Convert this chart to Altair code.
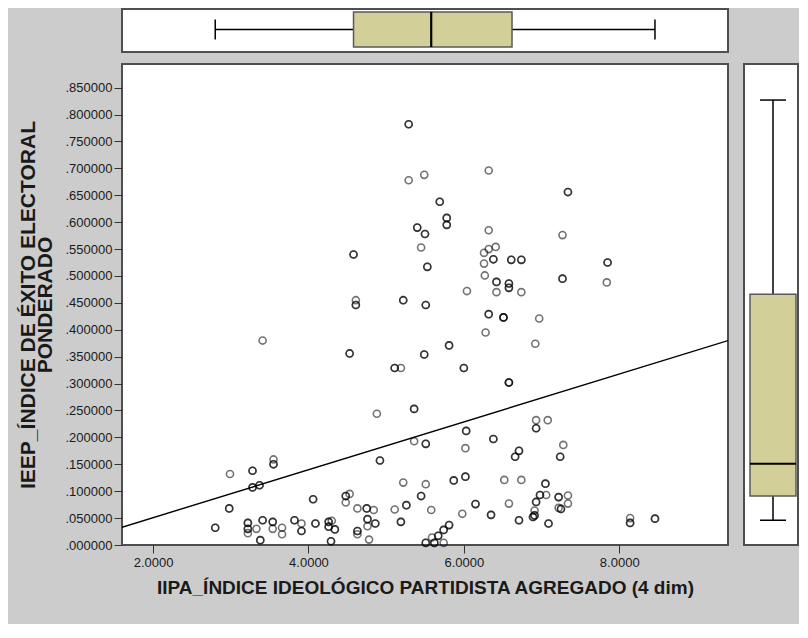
import altair as alt
import pandas as pd

# ---------------- data ----------------
# IIPA (x) and IEEP (y) for each plotted case; `cases` = how many cases overlap at that point
iipa = [5.29, 5.29, 5.49, 6.32, 7.34, 5.69, 5.78, 5.78, 5.40, 5.50,
        5.45, 4.58, 6.32, 7.27, 6.41, 6.32, 6.26, 6.38, 6.26, 6.61,
        6.74, 7.85, 5.53, 6.27, 7.27, 6.42, 6.58, 6.58, 7.84, 6.04,
        6.42, 6.74, 4.61, 4.61, 5.22, 5.51, 6.32, 6.51, 6.97, 6.28,
        6.92, 5.81, 6.00, 6.58, 6.03, 6.02, 6.38, 6.93, 7.08, 6.93,
        7.28, 7.24, 6.71, 6.66, 5.87, 6.02, 6.52, 6.74, 7.05, 5.58,
        5.98, 6.15, 6.35, 6.58, 6.71, 6.98, 7.06, 6.93, 6.91, 6.91,
        6.89, 7.09, 7.22, 7.34, 7.34, 7.22, 7.25, 8.14, 8.14, 8.46,
        5.81, 5.74, 5.67, 5.59, 5.51, 5.74, 5.62, 3.41, 4.53, 5.49,
        5.11, 5.19, 5.36, 4.88, 5.36, 5.51, 4.92, 2.99, 3.28, 3.55,
        3.55, 3.28, 3.37, 5.22, 5.51, 5.45, 5.26, 5.11, 5.19, 4.06,
        4.48, 4.53, 4.48, 4.63, 4.75, 4.84, 4.76, 4.76, 4.86, 4.78,
        4.63, 4.63, 2.80, 2.98, 3.22, 3.22, 3.22, 3.33, 3.41, 3.54,
        3.54, 3.66, 3.66, 3.38, 3.82, 3.91, 3.91, 4.09, 4.26, 4.30,
        4.26, 4.34, 4.29]
ieep = [0.782, 0.678, 0.688, 0.696, 0.656, 0.638, 0.608, 0.595, 0.590, 0.578,
        0.553, 0.540, 0.585, 0.576, 0.554, 0.550, 0.543, 0.531, 0.523, 0.530,
        0.530, 0.525, 0.517, 0.501, 0.495, 0.489, 0.486, 0.478, 0.488, 0.472,
        0.470, 0.470, 0.455, 0.446, 0.455, 0.446, 0.429, 0.423, 0.421, 0.395,
        0.374, 0.371, 0.329, 0.302, 0.212, 0.180, 0.197, 0.232, 0.232, 0.217,
        0.186, 0.164, 0.175, 0.164, 0.120, 0.127, 0.121, 0.121, 0.114, 0.065,
        0.058, 0.076, 0.056, 0.077, 0.046, 0.093, 0.093, 0.080, 0.064, 0.055,
        0.052, 0.040, 0.089, 0.092, 0.077, 0.069, 0.067, 0.050, 0.041, 0.049,
        0.037, 0.028, 0.017, 0.014, 0.004, 0.004, 0.004, 0.380, 0.356, 0.354,
        0.329, 0.329, 0.253, 0.244, 0.193, 0.188, 0.157, 0.132, 0.138, 0.159,
        0.150, 0.107, 0.111, 0.116, 0.113, 0.091, 0.074, 0.066, 0.043, 0.085,
        0.091, 0.095, 0.079, 0.068, 0.068, 0.065, 0.048, 0.035, 0.040, 0.010,
        0.026, 0.020, 0.032, 0.068, 0.041, 0.030, 0.022, 0.030, 0.046, 0.043,
        0.030, 0.032, 0.020, 0.009, 0.046, 0.040, 0.026, 0.040, 0.043, 0.045,
        0.034, 0.029, 0.007]
cases = [2, 1, 1, 1, 2, 2, 2, 2, 2, 2,
         1, 2, 1, 1, 1, 1, 1, 2, 1, 2,
         2, 2, 2, 1, 2, 2, 2, 2, 1, 1,
         1, 1, 1, 2, 2, 2, 2, 3, 1, 1,
         1, 2, 2, 3, 2, 1, 2, 1, 1, 2,
         1, 2, 2, 2, 2, 2, 1, 1, 2, 1,
         1, 2, 2, 1, 2, 2, 1, 2, 1, 2,
         2, 2, 2, 1, 1, 1, 2, 1, 2, 2,
         2, 2, 2, 1, 2, 1, 2, 1, 2, 2,
         2, 1, 2, 1, 1, 2, 2, 1, 2, 1,
         2, 2, 2, 1, 1, 2, 2, 1, 2, 2,
         2, 1, 1, 1, 2, 1, 2, 1, 2, 1,
         2, 1, 2, 2, 2, 2, 1, 1, 2, 2,
         1, 1, 1, 2, 2, 1, 2, 2, 2, 1,
         2, 2, 2]

# box-plot statistics: whisker low, Q1, median, Q3, whisker high
iipa_box = [2.80, 4.58, 5.58, 6.62, 8.46]
ieep_box = [0.046, 0.091, 0.151, 0.466, 0.827]

# linear fit line (value at the two ends of the x range)
fit_x = [1.6, 9.4]
fit_y = [0.033, 0.380]

x_ticks = [2, 4, 6, 8]
y_ticks = [0.0, 0.05, 0.10, 0.15, 0.20, 0.25, 0.30, 0.35, 0.40, 0.45,
           0.50, 0.55, 0.60, 0.65, 0.70, 0.75, 0.80, 0.85]

x_title = "IIPA_ÍNDICE IDEOLÓGICO PARTIDISTA AGREGADO (4 dim)"
y_title = ["IEEP_ÍNDICE DE ÉXITO ELECTORAL", "PONDERADO"]

# ---------------- tables ----------------
rows = []
for xv, yv, n in zip(iipa, ieep, cases):
    for _ in range(n):
        rows.append({"x": xv, "y": yv})
pts = pd.DataFrame(rows)
fit = pd.DataFrame({"x": fit_x, "y": fit_y})
keys = ["lo", "q1", "med", "q3", "hi"]
xbox = pd.DataFrame([dict(zip(keys, iipa_box))])
ybox = pd.DataFrame([dict(zip(keys, ieep_box))])

FONT = "Liberation Sans"
W, H = 606, 481
TOP_H = 43
RIGHT_W = 54
BOX_FILL = "#d3cf99"
BOX_STROKE = "#5a5a5a"

xs = alt.Scale(domain=[1.6, 9.4], nice=False, zero=False)
ys = alt.Scale(domain=[0, 0.894], nice=False, zero=False)

# ---------------- main scatter ----------------
x_axis = alt.Axis(values=x_ticks, format=".4f", title=x_title, grid=False, domain=False,
                  tickSize=8, tickColor="#333333", labelPadding=3, labelFont=FONT,
                  labelFontSize=13, labelColor="#1a1a1a", titleFont=FONT, titleFontSize=19,
                  titleFontWeight="bold", titleColor="#1a1a1a", titlePadding=9)
y_axis = alt.Axis(values=y_ticks, labelExpr="substring(format(datum.value, '.6f'), 1)",
                  labelOverlap=False, title=y_title, grid=False, domain=False, tickSize=8,
                  tickColor="#333333", labelPadding=2, labelFont=FONT, labelFontSize=13,
                  labelColor="#1a1a1a", titleFont=FONT, titleFontSize=21,
                  titleFontWeight="bold", titleColor="#1a1a1a", titlePadding=10,
                  titleLineHeight=17)

points = alt.Chart(pts).mark_point(shape="circle", filled=False, size=50, strokeWidth=1.6,
                                   color="black", opacity=0.55).encode(
    x=alt.X("x:Q", scale=xs, axis=x_axis),
    y=alt.Y("y:Q", scale=ys, axis=y_axis),
)
line = alt.Chart(fit).mark_line(color="black", strokeWidth=1.4, clip=True).encode(
    x=alt.X("x:Q", scale=xs, axis=x_axis),
    y=alt.Y("y:Q", scale=ys, axis=y_axis),
)
main = alt.layer(line, points).properties(width=W, height=H)

# ---------------- top box plot (IIPA) ----------------
tb = alt.Chart(xbox)
xq = lambda f: alt.X(f + ":Q", scale=xs, axis=None)
mid_t = TOP_H / 2 - 1
top = alt.layer(
    tb.mark_rule(color="black", strokeWidth=1.5).encode(x=xq("lo"), x2="q1", y=alt.value(mid_t)),
    tb.mark_rule(color="black", strokeWidth=1.5).encode(x=xq("q3"), x2="hi", y=alt.value(mid_t)),
    tb.mark_rule(color="black", strokeWidth=1.5).encode(x=xq("lo"), y=alt.value(mid_t - 10), y2=alt.value(mid_t + 10)),
    tb.mark_rule(color="black", strokeWidth=1.5).encode(x=xq("hi"), y=alt.value(mid_t - 10), y2=alt.value(mid_t + 10)),
    tb.mark_rect(fill=BOX_FILL, stroke=BOX_STROKE, strokeWidth=1.5).encode(
        x=xq("q1"), x2="q3", y=alt.value(3), y2=alt.value(TOP_H - 5)),
    tb.mark_rule(color="black", strokeWidth=2.2).encode(x=xq("med"), y=alt.value(3), y2=alt.value(TOP_H - 5)),
).properties(width=W, height=TOP_H)

# ---------------- right box plot (IEEP) ----------------
rb = alt.Chart(ybox)
yq = lambda f: alt.Y(f + ":Q", scale=ys, axis=None)
cx = 29
right = alt.layer(
    rb.mark_rule(color="black", strokeWidth=1.5).encode(y=yq("lo"), y2="q1", x=alt.value(cx)),
    rb.mark_rule(color="black", strokeWidth=1.5).encode(y=yq("q3"), y2="hi", x=alt.value(cx)),
    rb.mark_rule(color="black", strokeWidth=1.5).encode(y=yq("lo"), x=alt.value(cx - 13), x2=alt.value(cx + 13)),
    rb.mark_rule(color="black", strokeWidth=1.5).encode(y=yq("hi"), x=alt.value(cx - 13), x2=alt.value(cx + 13)),
    rb.mark_rect(fill=BOX_FILL, stroke=BOX_STROKE, strokeWidth=1.5).encode(
        y=yq("q1"), y2="q3", x=alt.value(6), x2=alt.value(RIGHT_W - 2)),
    rb.mark_rule(color="black", strokeWidth=2.2).encode(y=yq("med"), x=alt.value(6), x2=alt.value(RIGHT_W - 2)),
).properties(width=RIGHT_W, height=H)

row = alt.hconcat(main, right, spacing=16, bounds="flush")
chart = alt.vconcat(top, row, spacing=12, bounds="flush").properties(
    background="#cccccc",
    padding={"left": 8, "top": 0, "right": 0, "bottom": 26},
).configure_view(fill="white", stroke="#4f4f4f", strokeWidth=2)

chart.save("out.html", embed_options={"renderer": "svg", "actions": False})
